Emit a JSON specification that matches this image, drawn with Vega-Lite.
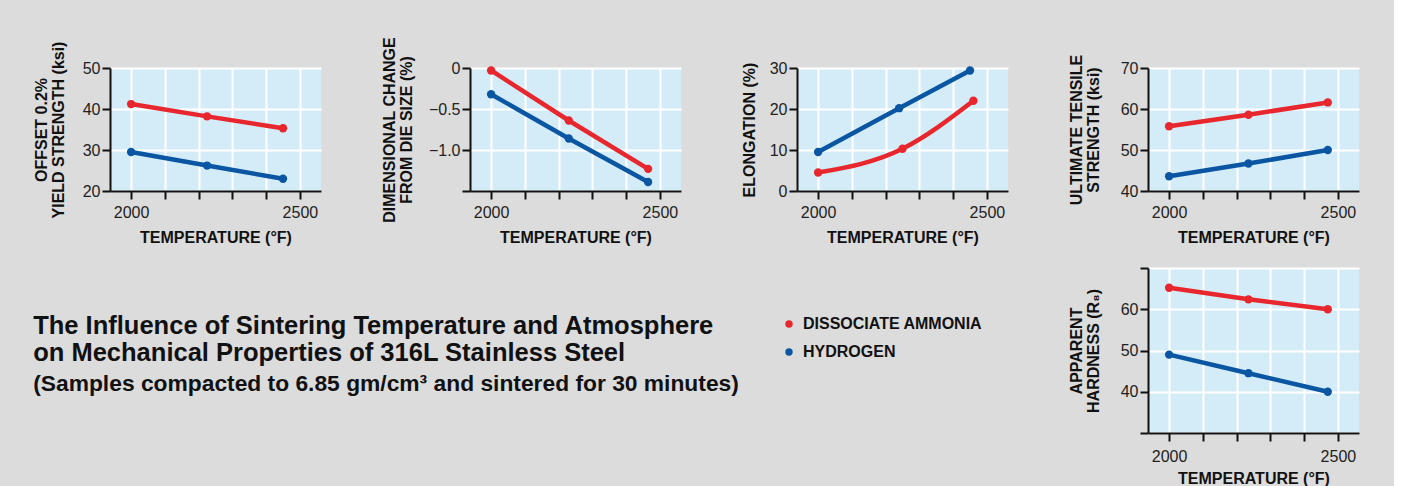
{
  "$schema": "https://vega.github.io/schema/vega-lite/v6.json",
  "background": "#dcdcdc",
  "padding": {"left": 33, "top": 36, "right": 35, "bottom": 4},
  "datasets": {
    "d": [
      {"panel": "ys", "atm": "DISSOCIATE AMMONIA", "temp": 2000, "value": 41.2},
      {"panel": "ys", "atm": "DISSOCIATE AMMONIA", "temp": 2225, "value": 38.2},
      {"panel": "ys", "atm": "DISSOCIATE AMMONIA", "temp": 2450, "value": 35.3},
      {"panel": "ys", "atm": "HYDROGEN", "temp": 2000, "value": 29.5},
      {"panel": "ys", "atm": "HYDROGEN", "temp": 2225, "value": 26.2},
      {"panel": "ys", "atm": "HYDROGEN", "temp": 2450, "value": 23.0},
      {"panel": "dc", "atm": "DISSOCIATE AMMONIA", "temp": 2000, "value": -0.03},
      {"panel": "dc", "atm": "DISSOCIATE AMMONIA", "temp": 2230, "value": -0.64},
      {"panel": "dc", "atm": "DISSOCIATE AMMONIA", "temp": 2465, "value": -1.23},
      {"panel": "dc", "atm": "HYDROGEN", "temp": 2000, "value": -0.32},
      {"panel": "dc", "atm": "HYDROGEN", "temp": 2230, "value": -0.86},
      {"panel": "dc", "atm": "HYDROGEN", "temp": 2465, "value": -1.39},
      {"panel": "el", "atm": "DISSOCIATE AMMONIA", "temp": 2000, "value": 4.5},
      {"panel": "el", "atm": "DISSOCIATE AMMONIA", "temp": 2250, "value": 10.3},
      {"panel": "el", "atm": "DISSOCIATE AMMONIA", "temp": 2460, "value": 22.0},
      {"panel": "el", "atm": "HYDROGEN", "temp": 2000, "value": 9.5},
      {"panel": "el", "atm": "HYDROGEN", "temp": 2240, "value": 20.2},
      {"panel": "el", "atm": "HYDROGEN", "temp": 2450, "value": 29.4},
      {"panel": "uts", "atm": "DISSOCIATE AMMONIA", "temp": 2000, "value": 55.8},
      {"panel": "uts", "atm": "DISSOCIATE AMMONIA", "temp": 2235, "value": 58.6},
      {"panel": "uts", "atm": "DISSOCIATE AMMONIA", "temp": 2470, "value": 61.6},
      {"panel": "uts", "atm": "HYDROGEN", "temp": 2000, "value": 43.6},
      {"panel": "uts", "atm": "HYDROGEN", "temp": 2235, "value": 46.7},
      {"panel": "uts", "atm": "HYDROGEN", "temp": 2470, "value": 50.0},
      {"panel": "hd", "atm": "DISSOCIATE AMMONIA", "temp": 2000, "value": 65.2},
      {"panel": "hd", "atm": "DISSOCIATE AMMONIA", "temp": 2235, "value": 62.4},
      {"panel": "hd", "atm": "DISSOCIATE AMMONIA", "temp": 2470, "value": 60.0},
      {"panel": "hd", "atm": "HYDROGEN", "temp": 2000, "value": 49.0},
      {"panel": "hd", "atm": "HYDROGEN", "temp": 2235, "value": 44.5},
      {"panel": "hd", "atm": "HYDROGEN", "temp": 2470, "value": 40.0}
    ]
  },
  "data": {"name": "d"},
  "title": {
    "text": ["The Influence of Sintering Temperature and Atmosphere", "on Mechanical Properties of 316L Stainless Steel"],
    "subtitle": "(Samples compacted to 6.85 gm/cm³ and sintered for 30 minutes)",
    "orient": "bottom",
    "anchor": "start",
    "offset": -172,
    "font": "Liberation Sans",
    "fontSize": 25.5,
    "fontWeight": "bold",
    "lineHeight": 27,
    "color": "#111111",
    "subtitleFont": "Liberation Sans",
    "subtitleFontSize": 22.8,
    "subtitleFontWeight": "bold",
    "subtitleColor": "#111111",
    "subtitlePadding": 6
  },
  "spacing": 60,
  "hconcat": [
    {
      "width": 211, "height": 123,
      "transform": [{"filter": "datum.panel == 'ys'"}],
      "encoding": {
        "x": {"field": "temp", "type": "quantitative", "scale": {"domain": [1937.5, 2562.5], "nice": false, "zero": false},
              "axis": {"values": [2000, 2100, 2200, 2300, 2400, 2500], "format": "d", "labelExpr": "datum.value == 2000 || datum.value == 2500 ? datum.label : ''", "title": "TEMPERATURE (°F)"}},
        "y": {"field": "value", "type": "quantitative", "scale": {"domain": [20, 50], "nice": false, "zero": false},
              "axis": {"values": [20, 30, 40, 50], "title": ["OFFSET 0.2%", "YIELD STRENGTH (ksi)"], "titlePadding": 16}},
        "color": {"field": "atm", "type": "nominal", "scale": {"domain": ["DISSOCIATE AMMONIA", "HYDROGEN"], "range": ["#e8262d", "#0b56a3"]}, "legend": {"title": null}}
      },
      "layer": [
        {"mark": {"type": "point", "filled": true, "size": 70, "opacity": 1}},
        {"mark": {"type": "line", "strokeWidth": 4.5}}
      ]
    },
    {
      "width": 211, "height": 123,
      "transform": [{"filter": "datum.panel == 'dc'"}],
      "encoding": {
        "x": {"field": "temp", "type": "quantitative", "scale": {"domain": [1937.5, 2562.5], "nice": false, "zero": false},
              "axis": {"values": [2000, 2100, 2200, 2300, 2400, 2500], "format": "d", "labelExpr": "datum.value == 2000 || datum.value == 2500 ? datum.label : ''", "title": "TEMPERATURE (°F)"}},
        "y": {"field": "value", "type": "quantitative", "scale": {"domain": [-1.5, 0], "nice": false, "zero": false},
              "axis": {"values": [-1.5, -1, -0.5, 0], "labelExpr": "datum.value == 0 ? '0' : datum.value == -1.5 ? '' : format(datum.value, '.1f')", "title": ["DIMENSIONAL CHANGE", "FROM DIE SIZE (%)"], "titlePadding": 14}},
        "color": {"field": "atm", "type": "nominal", "legend": {"title": null}}
      },
      "layer": [
        {"mark": {"type": "point", "filled": true, "size": 70, "opacity": 1}},
        {"mark": {"type": "line", "strokeWidth": 4.5}}
      ]
    },
    {
      "width": 211, "height": 123,
      "transform": [{"filter": "datum.panel == 'el'"}],
      "encoding": {
        "x": {"field": "temp", "type": "quantitative", "scale": {"domain": [1937.5, 2562.5], "nice": false, "zero": false},
              "axis": {"values": [2000, 2100, 2200, 2300, 2400, 2500], "format": "d", "labelExpr": "datum.value == 2000 || datum.value == 2500 ? datum.label : ''", "title": "TEMPERATURE (°F)"}},
        "y": {"field": "value", "type": "quantitative", "scale": {"domain": [0, 30], "nice": false},
              "axis": {"values": [0, 10, 20, 30], "title": "ELONGATION (%)", "titlePadding": 12}},
        "color": {"field": "atm", "type": "nominal", "legend": {"title": null}}
      },
      "layer": [
        {"mark": {"type": "point", "filled": true, "size": 70, "opacity": 1}},
        {"mark": {"type": "line", "strokeWidth": 4.5, "interpolate": "monotone"}}
      ]
    },
    {
      "spacing": 22,
      "vconcat": [
        {
          "width": 211, "height": 123,
          "transform": [{"filter": "datum.panel == 'uts'"}],
          "encoding": {
            "x": {"field": "temp", "type": "quantitative", "scale": {"domain": [1937.5, 2562.5], "nice": false, "zero": false},
                  "axis": {"values": [2000, 2100, 2200, 2300, 2400, 2500], "format": "d", "labelExpr": "datum.value == 2000 || datum.value == 2500 ? datum.label : ''", "title": "TEMPERATURE (°F)"}},
            "y": {"field": "value", "type": "quantitative", "scale": {"domain": [40, 70], "nice": false, "zero": false},
                  "axis": {"values": [40, 50, 60, 70], "title": ["ULTIMATE TENSILE", "STRENGTH (ksi)"], "titlePadding": 19}},
            "color": {"field": "atm", "type": "nominal", "legend": {"title": null}}
          },
          "layer": [
            {"mark": {"type": "point", "filled": true, "size": 70, "opacity": 1}},
            {"mark": {"type": "line", "strokeWidth": 4.5}}
          ]
        },
        {
          "width": 211, "height": 165,
          "transform": [{"filter": "datum.panel == 'hd'"}],
          "encoding": {
            "x": {"field": "temp", "type": "quantitative", "scale": {"domain": [1937.5, 2562.5], "nice": false, "zero": false},
                  "axis": {"values": [2000, 2100, 2200, 2300, 2400, 2500], "format": "d", "labelExpr": "datum.value == 2000 || datum.value == 2500 ? datum.label : ''", "title": "TEMPERATURE (°F)", "labelPadding": 7, "titlePadding": 6}},
            "y": {"field": "value", "type": "quantitative", "scale": {"domain": [30, 70], "nice": false, "zero": false},
                  "axis": {"values": [30, 40, 50, 60, 70], "labelExpr": "datum.value == 30 || datum.value == 70 ? '' : datum.label", "title": ["APPARENT", "HARDNESS (R₈)"], "titlePadding": 19}},
            "color": {"field": "atm", "type": "nominal", "legend": {"title": null}}
          },
          "layer": [
            {"mark": {"type": "point", "filled": true, "size": 70, "opacity": 1}},
            {"mark": {"type": "line", "strokeWidth": 4.5}}
          ]
        }
      ]
    }
  ],
  "config": {
    "font": "Liberation Sans",
    "view": {"fill": "#d4ecf8", "stroke": null},
    "axis": {
      "domainColor": "#111111", "domainWidth": 2,
      "tickColor": "#111111", "tickWidth": 2, "tickSize": 8,
      "gridColor": "#ffffff", "gridWidth": 2, "gridOpacity": 1,
      "labelFont": "Liberation Sans", "labelFontSize": 16, "labelColor": "#222222",
      "titleFont": "Liberation Sans", "titleFontSize": 16, "titleFontWeight": "bold", "titleColor": "#111111", "titleLineHeight": 17
    },
    "axisX": {"labelPadding": 5, "titlePadding": 9},
    "axisY": {"labelPadding": 2},
    "legend": {
      "orient": "none", "legendX": 671, "legendY": 248,
      "symbolType": "circle", "symbolSize": 55, "symbolStrokeWidth": 0,
      "labelFont": "Liberation Sans", "labelFontSize": 16, "labelFontWeight": "bold", "labelColor": "#111111",
      "labelLimit": 0, "rowPadding": 12, "labelOffset": 6
    }
  }
}
